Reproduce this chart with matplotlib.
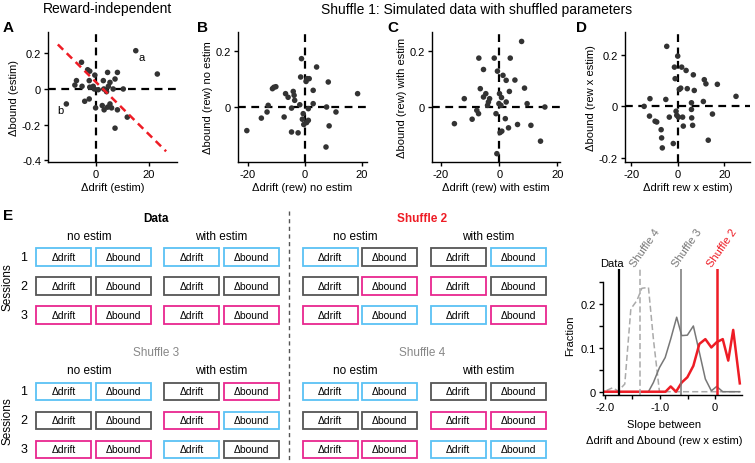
import numpy as np
import matplotlib.pyplot as plt
from matplotlib.patches import Rectangle

plt.rcParams['font.family'] = ['Liberation Sans', 'DejaVu Sans']
plt.rcParams['font.size'] = 8
plt.rcParams['axes.linewidth'] = 1.0
plt.rcParams['axes.unicode_minus'] = False

# ---- panel A: reward-independent effect of estim
a_drift = [15.0, 23.1, -5.4, -3.1, -2.3, -0.4, -7.3, -7.9, -5.2, -2.5, -2.3, -1.0, -0.6,
           2.8, 4.7, 5.3, 7.2, 8.1, 4.4, 3.0, 4.0, 10.3, -11.1, -4.2, -2.5, -0.1, 2.4,
           3.1, 4.4, 5.3, 5.9, 8.1, 11.8, 7.2, 0.9, 6.5]
a_bound = [0.215, 0.084, 0.150, 0.108, 0.100, 0.078, 0.047, 0.022, 0.015, 0.047, 0.010,
           0.015, 0.0, 0.047, 0.015, 0.037, 0.056, 0.093, 0.093, 0.0, -0.015, 0.0,
           -0.084, -0.069, -0.056, -0.106, -0.093, -0.117, -0.102, -0.084, -0.106,
           -0.117, -0.158, -0.220, -0.004, 0.0]
a_fit_x = [-14.3, 26.4]
a_fit_y = [0.25, -0.35]

# ---- panel B: reward effect, no estim
b_drift = [-20.4, -15.3, -13.3, -12.9, -11.4, -10.9, -10.2, -7.3, -6.8, -5.9, -4.7, -4.7,
           -4.1, -3.8, -3.6, -2.4, -1.8, -1.5, -1.2, -0.9, -0.6, -0.4, 0.4, 0.6, 0.8,
           1.2, 1.5, 2.9, 2.9, 4.1, 7.4, 7.6, 8.2, 8.5, 10.9, 18.5, 1.2]
b_bound = [-0.085, -0.040, -0.018, 0.006, 0.066, 0.071, 0.073, -0.036, 0.048, 0.035,
           -0.004, -0.090, 0.056, 0.042, 0.024, -0.093, 0.008, 0.108, 0.174, -0.044,
           -0.024, -0.063, 0.092, -0.056, 0.102, -0.048, 0.102, 0.012, 0.060, 0.144,
           -0.144, 0.0, 0.090, -0.068, -0.018, 0.048, -0.006]

# ---- panel C: reward effect, with estim
c_drift = [-15.4, -12.0, -9.3, -7.7, -7.1, -7.0, -6.5, -5.4, -5.4, -4.6, -3.7, -3.3, -4.0,
           -1.7, -1.1, -0.8, -0.6, -0.1, 0.1, 0.3, 0.6, 0.9, 1.3, 2.1, 2.4, 2.4, 3.2,
           3.8, 3.5, 5.4, 6.3, 7.7, 8.7, 9.6, 10.9, 14.2, 15.7, 0.8]
c_bound = [-0.060, 0.030, -0.044, -0.012, -0.024, 0.176, 0.066, 0.135, 0.036, 0.048,
           0.018, 0.030, 0.006, 0.176, -0.024, -0.168, 0.129, 0.012, 0.048, -0.092,
           0.006, -0.087, 0.114, -0.042, 0.018, 0.096, -0.075, 0.176, 0.056, 0.097,
           -0.063, 0.236, 0.068, 0.012, -0.066, -0.123, 0.0, 0.034]

# ---- panel D: reward x estim interaction
d_drift = [-14.4, -11.9, -12.1, -9.7, -9.0, -7.1, -6.9, -6.6, -5.1, -4.7, -3.6, -1.9, -1.4,
           -1.1, -0.7, -0.4, 0.0, 0.3, 0.7, 1.3, 1.7, 2.1, 2.4, 3.6, 4.1, 5.9, 5.9, 6.0,
           6.4, 6.7, 7.1, 11.0, 11.4, 12.1, 13.1, 14.9, 17.0, 25.0]
d_bound = [0.0, 0.030, -0.038, -0.058, -0.061, -0.091, -0.123, -0.162, 0.027, 0.234,
           -0.042, -0.145, 0.153, 0.108, -0.019, -0.035, 0.196, -0.042, 0.066, 0.071,
           0.153, -0.042, -0.077, 0.140, 0.069, 0.014, -0.012, -0.045, -0.074, 0.123,
           0.062, 0.019, 0.104, 0.088, -0.132, -0.030, 0.086, 0.039]

# ---- panel E right: slope distributions
sh4_x = [-1.97, -1.86, -1.76, -1.64, -1.53, -1.42, -1.33, -1.21, -1.12, -1.01, 0.45]
sh4_y = [0.003, 0.009, 0.0015, 0.0175, 0.189, 0.208, 0.236, 0.238, 0.12, 0.0, 0.0]
sh3_x = [-2.03, -1.21, -1.12, -1.01, -0.906, -0.806, -0.697, -0.606, -0.503, -0.394,
         -0.285, -0.176, -0.067, 0.03, 0.14, 0.45]
sh3_y = [0.0, 0.0, 0.021, 0.055, 0.078, 0.120, 0.170, 0.128, 0.129, 0.150, 0.090,
         0.029, 0.002, 0.012, 0.0, 0.0]
sh2_x = [-2.03, -0.90, -0.806, -0.709, -0.606, -0.503, -0.394, -0.285, -0.176, -0.067,
         0.03, 0.14, 0.24, 0.33, 0.45]
sh2_y = [0.0, 0.0, 0.012, 0.0, 0.021, 0.033, 0.059, 0.109, 0.120, 0.101, 0.113, 0.120,
         0.071, 0.141, 0.019]
slope_names = ['Data', 'Shuffle 4', 'Shuffle 3', 'Shuffle 2']
slope_vals = [-1.74, -1.36, -0.61, 0.03]

# ---- panel E schematic: box colours per session row (b=blue, k=grey, m=magenta)
col_labels = ['\u0394drift', '\u0394bound', '\u0394drift', '\u0394bound']
data_boxes = ['bbbb', 'kkkk', 'mmmm']
shuffle2_boxes = ['bkkb', 'kmmk', 'mbbm']
shuffle3_boxes = ['bbkm', 'kkmb', 'mmbk']
shuffle4_boxes = ['bbkk', 'kkmm', 'mmbb']

W, H = 755, 464
fig = plt.figure(figsize=(W / 100, H / 100), dpi=100)


def px_axes(x0, y0, x1, y1):
    return fig.add_axes([x0 / W, 1 - y1 / H, (x1 - x0) / W, (y1 - y0) / H])


# overlay axes in pixel coords for schematic / free text
lay = fig.add_axes([0, 0, 1, 1])
lay.set_xlim(0, W)
lay.set_ylim(H, 0)
lay.axis('off')

dot = '#333333'


def style(ax):
    for s in ['top', 'right']:
        ax.spines[s].set_visible(False)
    ax.tick_params(direction='out', length=3, width=1, pad=2, labelsize=8)
    ax.patch.set_alpha(0)


def scatter_panel(ax, x, y, xlim, ylim, xticks, yticks, ylabel, xlabel):
    style(ax)
    ax.axvline(0, color='k', ls=(0, (3.5, 2.5)), lw=1.6, zorder=1)
    ax.axhline(0, color='k', ls=(0, (3.5, 2.5)), lw=1.6, zorder=1)
    ax.scatter(x, y, s=16, color=dot, edgecolors='none', zorder=2)
    ax.set_xticks(xticks)
    ax.set_yticks(yticks)
    ax.set_yticklabels(['%g' % t for t in yticks])
    ax.set_xlim(*xlim)
    ax.set_ylim(*ylim)
    ax.set_xlabel(xlabel, fontsize=8, labelpad=2)
    ax.set_ylabel(ylabel, fontsize=8, labelpad=2)


axA = px_axes(48, 33, 177, 163)
scatter_panel(axA, a_drift, a_bound, (-18, 30.5), (-0.41, 0.32), [0, 20],
              [-0.4, -0.2, 0, 0.2], '\u0394bound (estim)', '\u0394drift (estim)')
axA.plot(a_fit_x, a_fit_y, color='#ee1c25', ls=(0, (3, 2)), lw=1.8, zorder=3)
axA.text(a_drift[0] + 1.2, a_bound[0] - 0.005, 'a', fontsize=8, va='top')
axA.text(a_drift[22] - 1.0, a_bound[22] - 0.005, 'b', fontsize=8, va='top', ha='right')

axB = px_axes(238, 33, 367, 163)
scatter_panel(axB, b_drift, b_bound, (-23.5, 21.8), (-0.198, 0.27), [-20, 0, 20], [0, 0.2],
              '\u0394bound (rew) no estim', '\u0394drift (rew) no estim')
axC = px_axes(432, 33, 560, 163)
scatter_panel(axC, c_drift, c_bound, (-23.1, 20.9), (-0.198, 0.27), [-20, 0, 20], [0, 0.2],
              '\u0394bound (rew) with estim', '\u0394drift (rew) with estim')
axD = px_axes(625, 33, 750, 163)
scatter_panel(axD, d_drift, d_bound, (-22.6, 31), (-0.217, 0.29), [-20, 0, 20],
              [-0.2, 0, 0.2], '\u0394bound (rew x estim)', '\u0394drift rew x estim)')

# titles and panel letters
lay.text(108, 9, 'Reward-independent', fontsize=10, ha='center', va='center')
lay.text(477, 10, 'Shuffle 1: Simulated data with shuffled parameters', fontsize=10,
         ha='center', va='center')
for lab, x, y in [('A', 3, 28), ('B', 197, 28), ('C', 387, 28), ('D', 576, 28), ('E', 3, 216)]:
    lay.text(x, y, lab, fontsize=11, fontweight='bold', ha='left', va='center')

# ---- schematic
box_left = [36, 95.7, 164, 224]
box_w, box_h = 55, 17.5
row_y = [258, 287, 316]
grp_dx, grp_dy = 266.7, 134.5
ecol = {'b': '#5bc2f5', 'k': '#555555', 'm': '#e8268f'}
groups = [('Data', data_boxes, 0, 0, 'k', 'bold'),
          ('Shuffle 2', shuffle2_boxes, 1, 0, '#ee1c25', 'bold'),
          ('Shuffle 3', shuffle3_boxes, 0, 1, '#888888', 'normal'),
          ('Shuffle 4', shuffle4_boxes, 1, 1, '#888888', 'normal')]
for name, boxes, gx, gy, tc, fw in groups:
    ox, oy = gx * grp_dx, gy * grp_dy
    lay.text(155.7 + ox, 219 + oy, name, color=tc, fontweight=fw, fontsize=8.5,
             ha='center', va='center')
    lay.text(89 + ox, 237 + oy, 'no estim', fontsize=8.5, ha='center', va='center')
    lay.text(221.7 + ox, 237 + oy, 'with estim', fontsize=8.5, ha='center', va='center')
    for r, codes in enumerate(boxes):
        cy = row_y[r] + oy
        for c, code in enumerate(codes):
            x0 = box_left[c] + ox
            lay.add_patch(Rectangle((x0, cy - box_h / 2), box_w, box_h, fill=False,
                                    edgecolor=ecol[code], lw=1.3))
            lay.text(x0 + box_w / 2, cy, col_labels[c], fontsize=7.5, ha='center',
                     va='center')
    if gx == 0:
        for r in range(3):
            lay.text(24, row_y[r] + oy, str(r + 1), fontsize=9, ha='center', va='center')
        lay.text(8, 287 + oy, 'Sessions', fontsize=8.5, rotation=90, ha='center',
                 va='center')

lay.plot([289, 289], [212, 464], color='#555555', lw=1, ls=(0, (3, 2.5)))

# ---- slope distribution
axH = px_axes(603, 270, 742, 396)
style(axH)
axH.set_xticks([-2.0, -1.0, 0])
axH.set_xticklabels(['-2.0', '-1.0', '0'])
axH.set_xticks([-1.5, -0.5, 0.5], minor=True)
axH.set_yticks([0, 0.1, 0.2])
axH.set_yticklabels(['0', '0.1', '0.2'])
axH.set_yticks([0.05, 0.15, 0.25], minor=True)
axH.set_xlim(-2.036, 0.49)
axH.set_ylim(-0.0075, 0.28)
axH.spines['left'].set_bounds(-0.0075, 0.25)
axH.tick_params(which='minor', direction='out', length=3, width=1)
axH.plot(sh4_x, sh4_y, color='#aaaaaa', lw=1.1, ls=(0, (4, 2)))
axH.plot(sh3_x, sh3_y, color='#777777', lw=1.1)
axH.plot(sh2_x, sh2_y, color='#ee1c25', lw=1.8)
line_cols = ['k', '#aaaaaa', '#777777', '#ee1c25']
line_ls = ['-', (0, (4, 2)), '-', '-']
line_lw = [1.6, 1.1, 1.1, 1.8]
for name, v, c, ls, lw in zip(slope_names, slope_vals, line_cols, line_ls, line_lw):
    axH.axvline(v, color=c, ls=ls, lw=lw)
    if name == 'Data':
        axH.text(v - 0.13, 0.283, name, fontsize=8, ha='center', va='bottom',
                 clip_on=False)
    else:
        axH.text(v - 0.06, 0.283, name, fontsize=8, color=('#ee1c25' if c == '#ee1c25'
                 else '#777777'), rotation=55, rotation_mode='anchor', ha='left',
                 va='bottom', clip_on=False)
lay.text(570, 336, 'Fraction', fontsize=8, rotation=90, ha='center', va='center')
lay.text(664, 425, 'Slope between', fontsize=8, ha='center', va='center')
lay.text(664, 441, '\u0394drift and \u0394bound (rew x estim)', fontsize=8,
         ha='center', va='center')

fig.savefig('out.png', dpi=100)
